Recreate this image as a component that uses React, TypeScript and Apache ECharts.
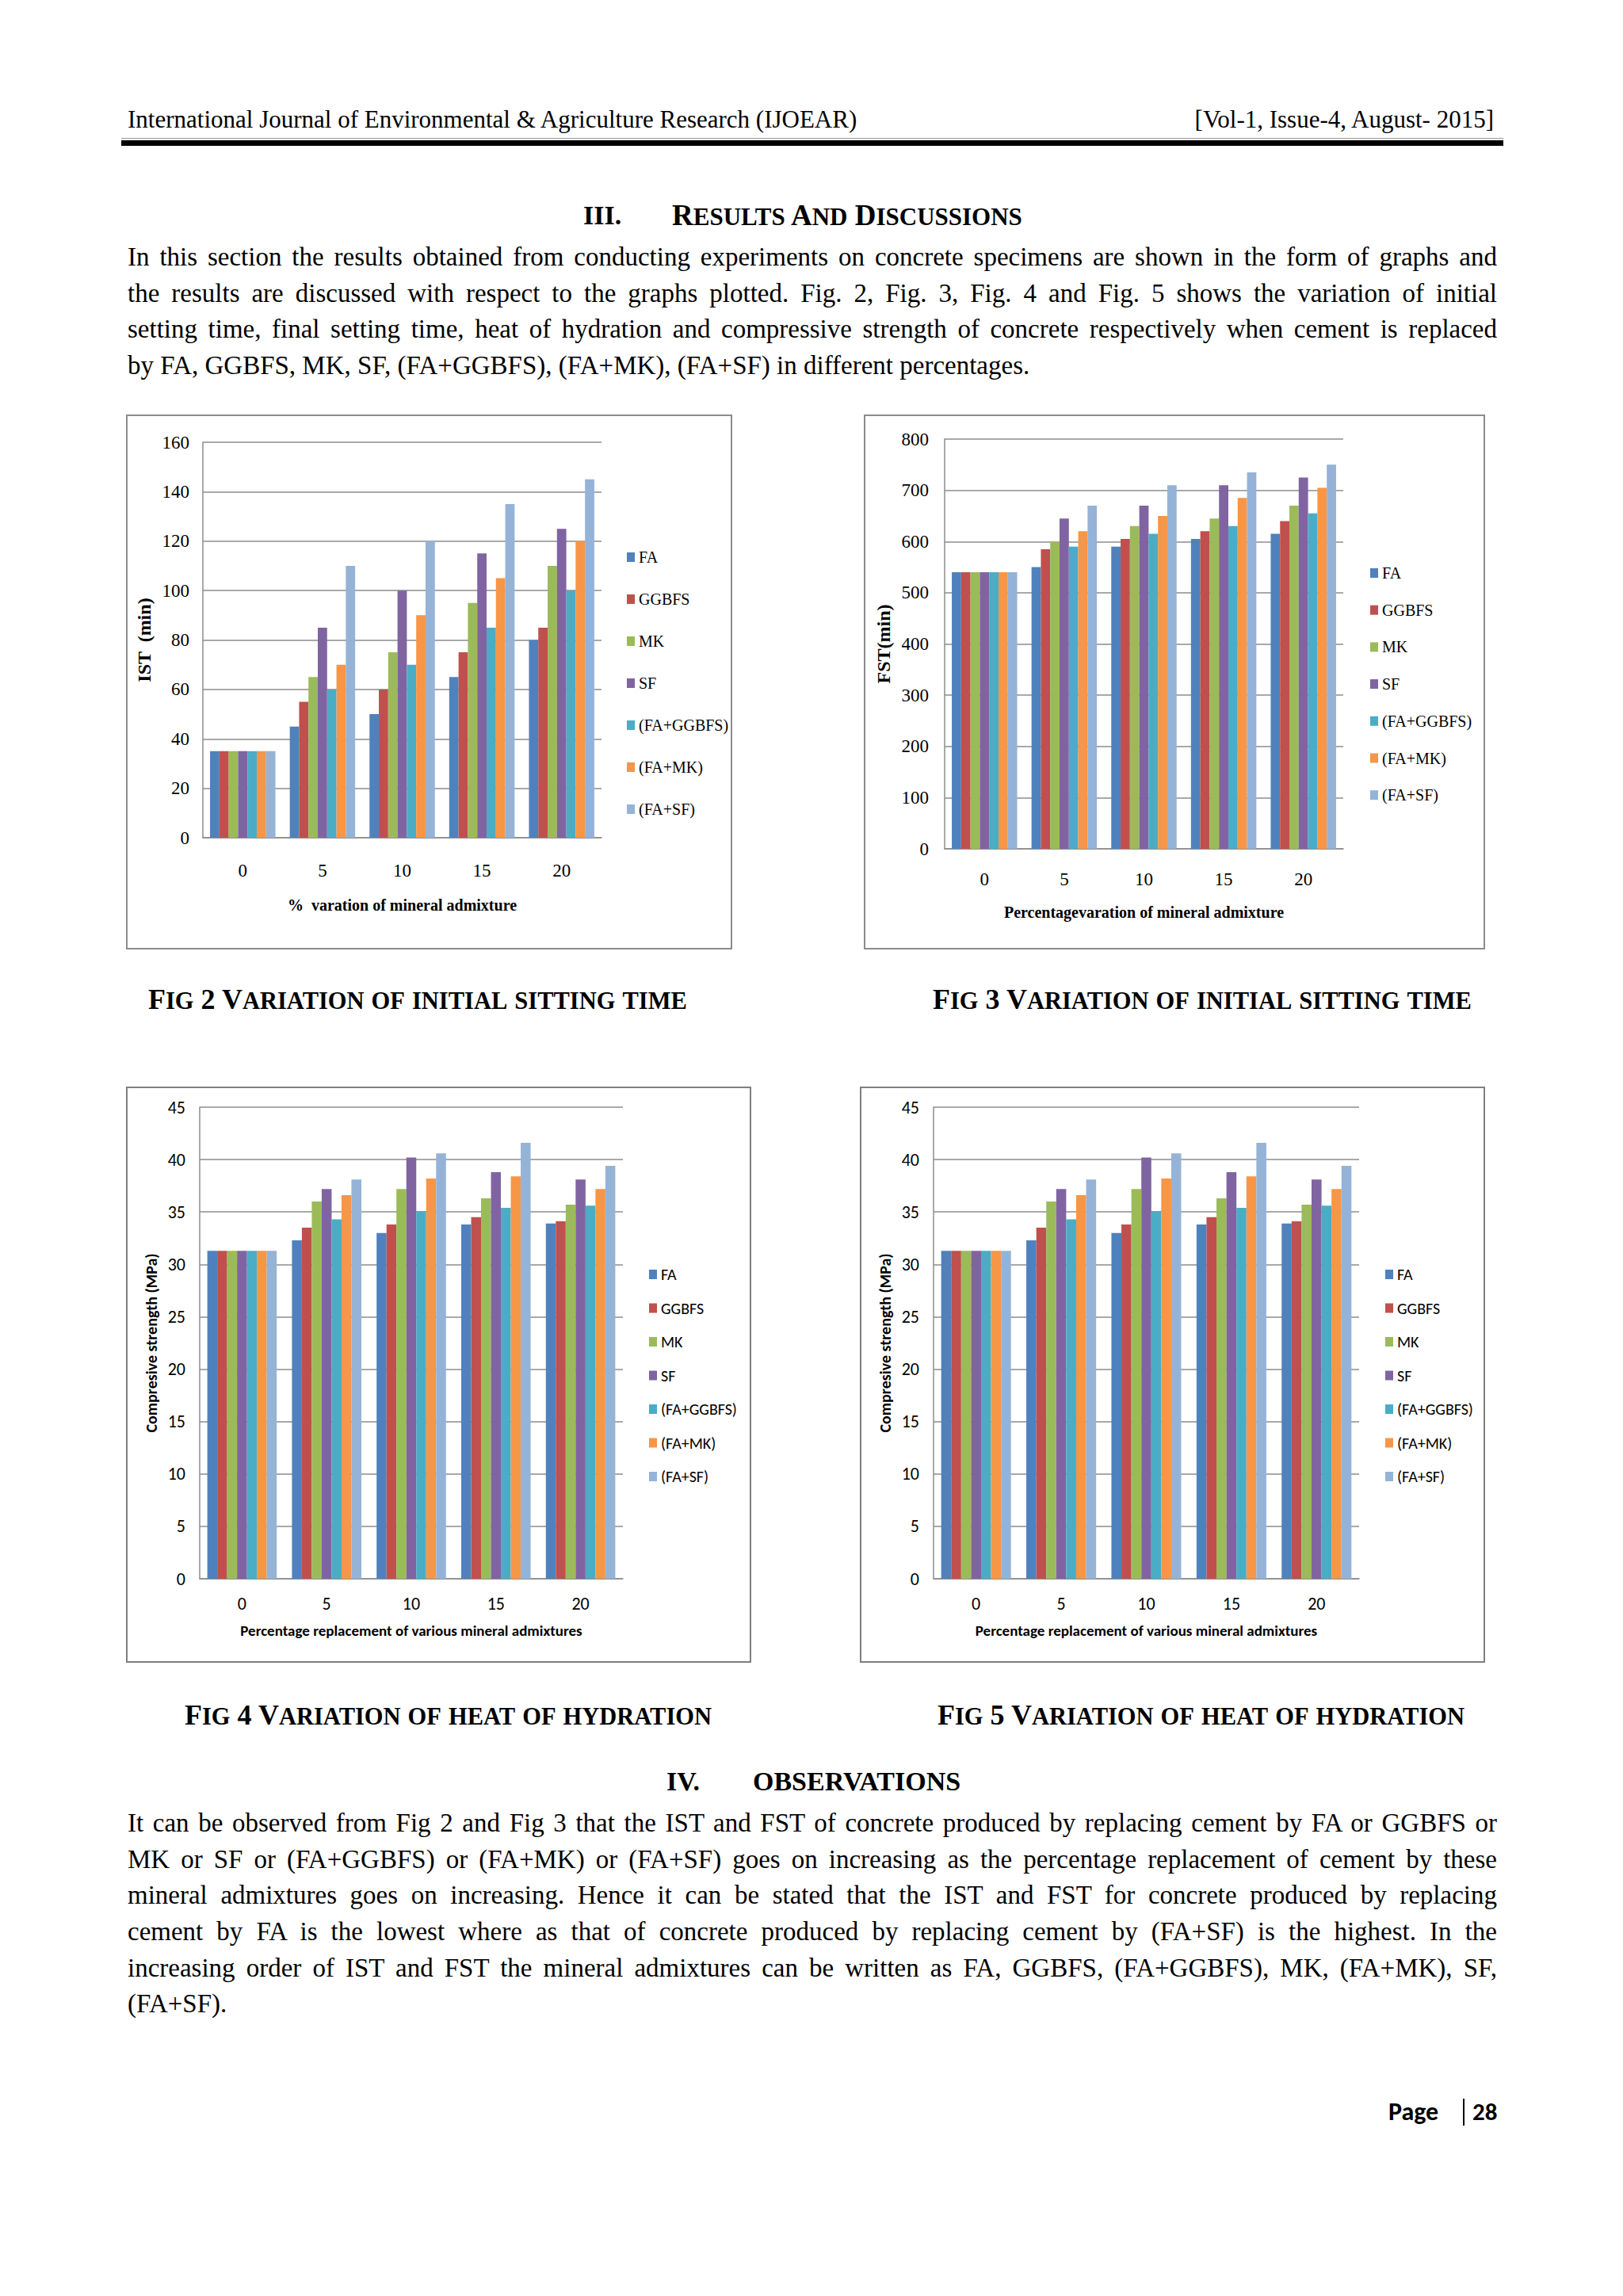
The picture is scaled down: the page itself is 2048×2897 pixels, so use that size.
import React, { useEffect, useRef } from "react";
import * as echarts from "echarts";

// ---------- DATA ----------
const categories = ["0", "5", "10", "15", "20"];
const seriesNames = ["FA", "GGBFS", "MK", "SF", "(FA+GGBFS)", "(FA+MK)", "(FA+SF)"];
const seriesColors = ["#4F81BD", "#C0504D", "#9BBB59", "#8064A2", "#4BACC6", "#F79646", "#95B3D7"];

// Fig 2: initial setting time (min)
const istFA = [35, 45, 50, 65, 80];
const istGGBFS = [35, 55, 60, 75, 85];
const istMK = [35, 65, 75, 95, 110];
const istSF = [35, 85, 100, 115, 125];
const istFAGGBFS = [35, 60, 70, 85, 100];
const istFAMK = [35, 70, 90, 105, 120];
const istFASF = [35, 110, 120, 135, 145];

// Fig 3: final setting time (min)
const fstFA = [540, 550, 590, 605, 615];
const fstGGBFS = [540, 585, 605, 620, 640];
const fstMK = [540, 600, 630, 645, 670];
const fstSF = [540, 645, 670, 710, 725];
const fstFAGGBFS = [540, 590, 615, 630, 655];
const fstFAMK = [540, 620, 650, 685, 705];
const fstFASF = [540, 670, 710, 735, 750];

// Fig 4 / Fig 5: compressive strength (MPa)
const csFA = [31.3, 32.3, 33.0, 33.8, 33.9];
const csGGBFS = [31.3, 33.5, 33.8, 34.5, 34.1];
const csMK = [31.3, 36.0, 37.2, 36.3, 35.7];
const csSF = [31.3, 37.2, 40.2, 38.8, 38.1];
const csFAGGBFS = [31.3, 34.3, 35.1, 35.4, 35.6];
const csFAMK = [31.3, 36.6, 38.2, 38.4, 37.2];
const csFASF = [31.3, 38.1, 40.6, 41.6, 39.4];

const istSeries = [istFA, istGGBFS, istMK, istSF, istFAGGBFS, istFAMK, istFASF];
const fstSeries = [fstFA, fstGGBFS, fstMK, fstSF, fstFAGGBFS, fstFAMK, fstFASF];
const csSeries = [csFA, csGGBFS, csMK, csSF, csFAGGBFS, csFAMK, csFASF];

const SERIF = "'Liberation Serif', 'Times New Roman', serif";
const SANS = "Carlito, Lato, 'Open Sans', sans-serif";

type Cfg = {
  w: number; h: number;
  grid: { left: number; top: number; width: number; height: number };
  max: number; interval: number;
  data: number[][];
  font: string; tickSize: number; tickMargin: number; xMargin: number;
  yName: string; yNameSize: number; yNameGap: number;
  xName: string; xNameSize: number; xNameGap: number;
  legendLeft: number; legendTop: number; legendGap: number; legendSize: number; legendLH: number;
  border: string;
};

function buildOption(c: Cfg) {
  return {
    animation: false,
    backgroundColor: "#ffffff",
    graphic: [
      {
        type: "rect",
        shape: { x: 1, y: 1, width: c.w - 2, height: c.h - 2 },
        style: { fill: "none", stroke: c.border, lineWidth: 2 },
        silent: true,
      },
    ],
    grid: { ...c.grid, containLabel: false },
    legend: {
      orient: "vertical",
      left: c.legendLeft,
      top: c.legendTop,
      padding: 0,
      itemGap: c.legendGap,
      itemWidth: 10,
      itemHeight: 12,
      icon: "rect",
      data: seriesNames,
      textStyle: { fontFamily: c.font, fontSize: c.legendSize, color: "#000", lineHeight: c.legendLH },
    },
    xAxis: {
      type: "category",
      data: categories,
      name: c.xName,
      nameLocation: "middle",
      nameGap: c.xNameGap,
      nameTextStyle: { fontFamily: c.font, fontSize: c.xNameSize, fontWeight: "bold", color: "#000" },
      axisLine: { show: true, lineStyle: { color: "#8c8c8c", width: 1.5 } },
      axisTick: { show: false },
      axisLabel: { fontFamily: c.font, fontSize: c.tickSize, color: "#000", margin: c.xMargin },
    },
    yAxis: {
      type: "value",
      min: 0,
      max: c.max,
      interval: c.interval,
      name: c.yName,
      nameLocation: "middle",
      nameGap: c.yNameGap,
      nameTextStyle: { fontFamily: c.font, fontSize: c.yNameSize, fontWeight: "bold", color: "#000" },
      axisLine: { show: true, lineStyle: { color: "#8c8c8c", width: 1.5 } },
      axisTick: { show: false },
      splitLine: { show: true, lineStyle: { color: "#8c8c8c", width: 1.5 } },
      axisLabel: { fontFamily: c.font, fontSize: c.tickSize, color: "#000", margin: c.tickMargin },
    },
    series: seriesNames.map((n, i) => ({
      name: n,
      type: "bar",
      data: c.data[i],
      barGap: "0%",
      barCategoryGap: "18%",
      itemStyle: { color: seriesColors[i] },
    })),
  };
}

function Figure({ x, y, cfg }: { x: number; y: number; cfg: Cfg }) {
  const ref = useRef<HTMLDivElement>(null);
  useEffect(() => {
    const chart = echarts.init(ref.current!, null, { renderer: "svg" });
    chart.setOption(buildOption(cfg) as any);
    return () => chart.dispose();
  }, []);
  return (
    <div
      ref={ref}
      style={{ position: "absolute", left: x, top: y, width: cfg.w, height: cfg.h }}
    />
  );
}

const fig2: Cfg = {
  w: 765, h: 675,
  grid: { left: 97, top: 35, width: 503, height: 499 },
  max: 160, interval: 20, data: istSeries,
  font: SERIF, tickSize: 23, tickMargin: 17, xMargin: 30,
  yName: "IST  (min)", yNameSize: 24, yNameGap: 50,
  xName: "%  varation of mineral admixture", xNameSize: 20, xNameGap: 75,
  legendLeft: 632, legendTop: 168, legendGap: 29, legendSize: 20, legendLH: 24,
  border: "#8c8c8c",
};

const fig3: Cfg = {
  w: 784, h: 675,
  grid: { left: 102, top: 31, width: 503, height: 517 },
  max: 800, interval: 100, data: fstSeries,
  font: SERIF, tickSize: 23, tickMargin: 20, xMargin: 27,
  yName: "FST(min)", yNameSize: 24, yNameGap: 56,
  xName: "Percentagevaration of mineral admixture", xNameSize: 20, xNameGap: 70,
  legendLeft: 639, legendTop: 188, legendGap: 22.7, legendSize: 20, legendLH: 24,
  border: "#8c8c8c",
};

const fig4: Cfg = {
  w: 789, h: 727,
  grid: { left: 93, top: 26, width: 534, height: 595 },
  max: 45, interval: 5, data: csSeries,
  font: SANS, tickSize: 22, tickMargin: 18, xMargin: 20,
  yName: "Compresive strength (MPa)", yNameSize: 20, yNameGap: 46,
  xName: "Percentage replacement of various mineral admixtures", xNameSize: 19, xNameGap: 56,
  legendLeft: 660, legendTop: 226, legendGap: 20.5, legendSize: 20, legendLH: 22,
  border: "#7f7f7f",
};

const fig5: Cfg = {
  ...fig4,
  grid: { left: 93, top: 26, width: 537, height: 595 },
  legendLeft: 663,
};

const pStyle: React.CSSProperties = {
  fontFamily: SERIF,
  fontSize: 33,
  lineHeight: "45.6px",
  height: 45.6,
  color: "#000",
  textAlign: "justify",
  width: 1728,
};

const para1 = [
  "In this section the results obtained from conducting experiments on concrete specimens are shown in the form of graphs and",
  "the results are discussed with respect to the graphs plotted. Fig. 2, Fig. 3, Fig. 4 and Fig. 5 shows the variation of initial",
  "setting time, final setting time, heat of hydration and compressive strength of concrete respectively when cement is replaced",
  "by FA, GGBFS, MK, SF, (FA+GGBFS), (FA+MK), (FA+SF) in different percentages.",
];

const para2 = [
  "It can be observed from Fig 2 and Fig 3 that the IST and FST of concrete produced by replacing cement by FA or GGBFS or",
  "MK or SF or (FA+GGBFS) or (FA+MK) or (FA+SF) goes on increasing as the percentage replacement of cement by these",
  "mineral admixtures goes on increasing. Hence it can be stated that the IST and FST for concrete produced by replacing",
  "cement by FA is the lowest where as that of concrete produced by replacing cement by (FA+SF) is the highest. In the",
  "increasing order of IST and FST the mineral admixtures can be written as FA, GGBFS, (FA+GGBFS), MK, (FA+MK), SF,",
  "(FA+SF).",
];

function Para({ top, lines }: { top: number; lines: string[] }) {
  return (
    <div style={{ position: "absolute", left: 161, top }}>
      {lines.map((l, i) => (
        <div
          key={i}
          style={{
            ...pStyle,
            textAlignLast: (i === lines.length - 1 ? "left" : "justify") as any,
          }}
        >
          {l}
        </div>
      ))}
    </div>
  );
}

function Txt({ x, cy, size, children, style }: any) {
  return (
    <div
      style={{
        position: "absolute",
        left: x,
        top: cy - size * 0.6,
        fontFamily: SERIF,
        fontSize: size,
        lineHeight: `${size * 1.2}px`,
        whiteSpace: "nowrap",
        color: "#000",
        ...style,
      }}
    >
      {children}
    </div>
  );
}

// Manual small caps: capitals/digits at `big`, lower-case letters upper-cased at `small`
function SmallCaps({ text, big, small }: { text: string; big: number; small: number }) {
  const parts: { s: string; low: boolean }[] = [];
  for (const ch of text) {
    const low = ch !== ch.toUpperCase();
    const last = parts[parts.length - 1];
    if (last && last.low === low) last.s += ch;
    else parts.push({ s: ch, low });
  }
  return (
    <>
      {parts.map((p, i) => (
        <span key={i} style={{ fontSize: p.low ? small : big }}>
          {p.low ? p.s.toUpperCase() : p.s}
        </span>
      ))}
    </>
  );
}

export default function App() {
  return (
    <div
      style={{
        position: "absolute",
        left: 0,
        top: 0,
        width: 2048,
        height: 2897,
        background: "#fff",
        overflow: "hidden",
      }}
    >
      {/* Header */}
      <Txt x={161} cy={151} size={31}>
        International Journal of Environmental &amp; Agriculture Research (IJOEAR)
      </Txt>
      <div
        style={{
          position: "absolute",
          right: 2048 - 1885,
          top: 151 - 18.6,
          fontFamily: SERIF,
          fontSize: 31,
          lineHeight: "37.2px",
          whiteSpace: "nowrap",
        }}
      >
        [Vol-1, Issue-4, August- 2015]
      </div>
      <div style={{ position: "absolute", left: 153, top: 174, width: 1744, height: 1, background: "#9a9a9a" }} />
      <div style={{ position: "absolute", left: 153, top: 177, width: 1744, height: 7, background: "#000" }} />

      {/* Section III */}
      <Txt x={736} cy={272} size={34} style={{ fontWeight: "bold" }}>III.</Txt>
      <Txt x={848} cy={272} size={37} style={{ fontWeight: "bold" }}>
        <SmallCaps text="Results And Discussions" big={37} small={31} />
      </Txt>
      <Para top={325 - 22.8} lines={para1} />

      {/* Figures */}
      <Figure x={159} y={523} cfg={fig2} />
      <Figure x={1090} y={523} cfg={fig3} />
      <Txt x={187} cy={1262} size={36} style={{ fontWeight: "bold" }}>
        <SmallCaps text="Fig 2 Variation of initial sitting time" big={36} small={30.5} />
      </Txt>
      <Txt x={1177} cy={1262} size={36} style={{ fontWeight: "bold" }}>
        <SmallCaps text="Fig 3 Variation of initial sitting time" big={36} small={30.5} />
      </Txt>

      <Figure x={159} y={1371} cfg={fig4} />
      <Figure x={1085} y={1371} cfg={fig5} />
      <Txt x={233} cy={2165} size={36} style={{ fontWeight: "bold" }}>
        <SmallCaps text="Fig 4 Variation of heat of hydration" big={36} small={30.5} />
      </Txt>
      <Txt x={1183} cy={2165} size={36} style={{ fontWeight: "bold" }}>
        <SmallCaps text="Fig 5 Variation of heat of hydration" big={36} small={30.5} />
      </Txt>

      {/* Section IV */}
      <Txt x={841} cy={2248} size={34} style={{ fontWeight: "bold" }}>IV.</Txt>
      <Txt x={950} cy={2248} size={34} style={{ fontWeight: "bold" }}>OBSERVATIONS</Txt>
      <Para top={2301 - 22.8} lines={para2} />

      {/* Page number */}
      <Txt x={1752} cy={2665} size={32} style={{ fontFamily: SANS, fontWeight: "bold" }}>Page</Txt>
      <div style={{ position: "absolute", left: 1846, top: 2648, width: 2, height: 34, background: "#000" }} />
      <Txt x={1858} cy={2665} size={31} style={{ fontFamily: SANS, fontWeight: "bold" }}>28</Txt>
    </div>
  );
}
